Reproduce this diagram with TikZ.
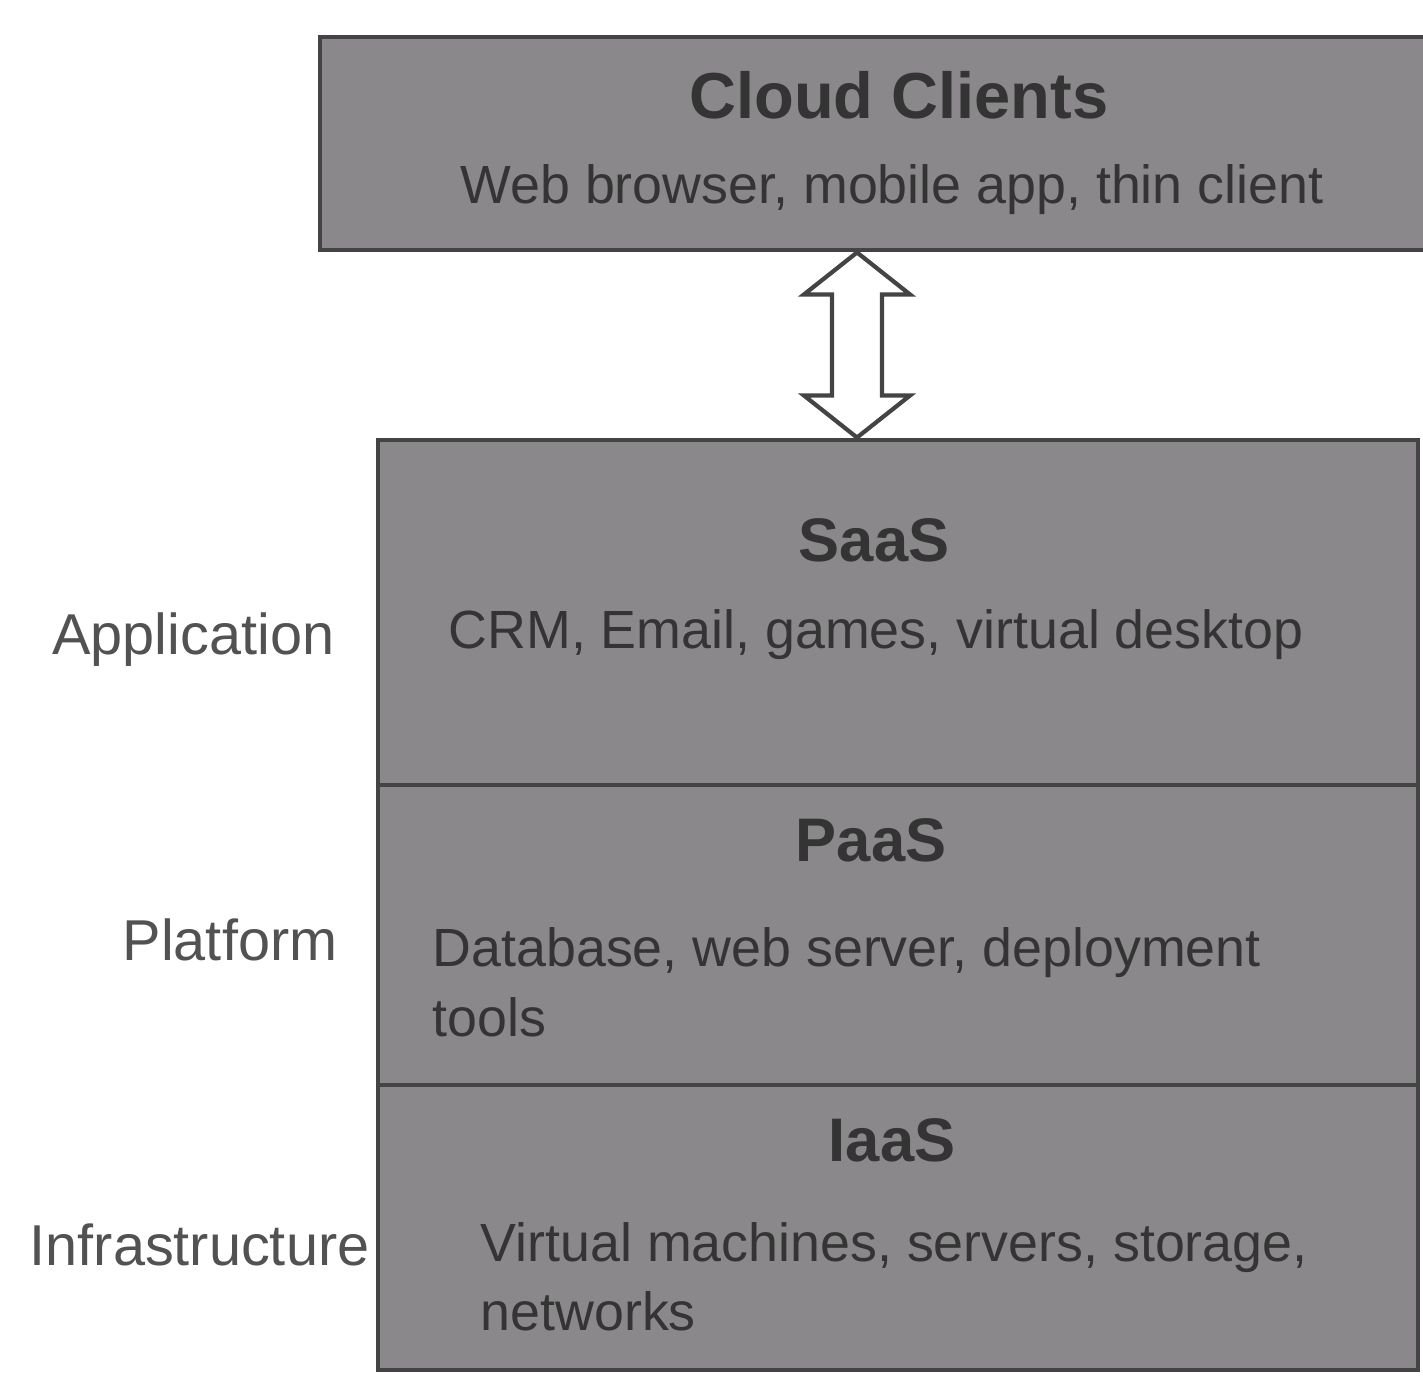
\documentclass[tikz,border=0pt]{standalone}
\usepackage{fontspec}
\setmainfont{Liberation Sans}
\usetikzlibrary{calc}
\definecolor{layergray}{RGB}{138,136,138}
\definecolor{edgegray}{RGB}{68,68,68}
\definecolor{inkgray}{RGB}{52,52,52}
\definecolor{labelgray}{RGB}{82,82,82}

\begin{document}
\begin{tikzpicture}[
  layer/.style={draw=edgegray, line width=1.4pt, fill=layergray, rectangle, inner sep=0pt},
  title/.style={font=\fontsize{17.5}{21}\selectfont\bfseries, text=inkgray, inner sep=0pt},
  body/.style={font=\fontsize{15.3}{19.9}\selectfont, text=inkgray, inner sep=0pt, align=left},
  side/.style={font=\fontsize{16.4}{20}\selectfont, text=labelgray, inner sep=0pt, anchor=east},
  hollow/.style={draw=edgegray, line width=1.2pt, fill=white, line join=miter}
]
\useasboundingbox (0,0) rectangle (14.23,-13.81);

% clients box
\node[layer, minimum width=11.15cm, minimum height=2.13cm] (clients) at (8.775,-1.435) {};
\node[title, font=\fontsize{18.5}{22}\selectfont\bfseries] (cctitle) at (8.99,-0.95) {Cloud Clients};
\node[body] (ccsub) at (8.92,-1.90) {Web browser, mobile app, thin client};

% service stack
\node[layer, minimum width=10.40cm, minimum height=3.45cm] (saas) at (8.98,-6.125) {};
\node[layer, minimum width=10.40cm, minimum height=3.00cm] (paas) at (8.98,-9.35) {};
\node[layer, minimum width=10.40cm, minimum height=2.85cm] (iaas) at (8.98,-12.275) {};

\node[title] (saast) at (8.74,-5.40) {SaaS};
\node[body] (saasb) at (8.76,-6.35) {CRM, Email, games, virtual desktop};
\node[title] (paast) at (8.71,-8.40) {PaaS};
\node[body, anchor=west] (paasb) at (4.32,-9.82) {Database, web server, deployment\\tools};
\node[title] (iaast) at (8.92,-11.40) {IaaS};
\node[body, anchor=west, font=\fontsize{15.3}{19.5}\selectfont] (iaasb) at (4.80,-12.77) {Virtual machines, servers, storage,\\networks};

% side labels
\node[side] (app) at (3.35,-6.40) {Application};
\node[side] (plat) at (3.38,-9.40) {Platform};
\node[side] (infra) at (3.70,-12.45) {Infrastructure};

% hollow double arrow
\coordinate (ax) at (8.57,0);
\coordinate (tipT) at (clients.south -| ax);
\coordinate (tipB) at (saas.north -| ax);
\path[hollow] (tipT) -- ($(tipT)+(0.53,-0.42)$) -- ($(tipT)+(0.25,-0.42)$)
  -- ($(tipB)+(0.25,0.42)$) -- ($(tipB)+(0.53,0.42)$) -- (tipB)
  -- ($(tipB)+(-0.53,0.42)$) -- ($(tipB)+(-0.25,0.42)$)
  -- ($(tipT)+(-0.25,-0.42)$) -- ($(tipT)+(-0.53,-0.42)$) -- cycle;
\end{tikzpicture}
\end{document}
